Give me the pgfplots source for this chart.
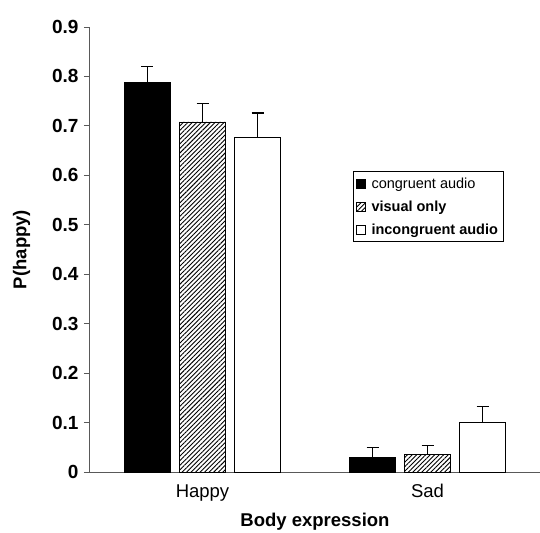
\documentclass[border=0pt]{standalone}
\usepackage{pgfplots}
\pgfplotsset{compat=1.18}
\usepackage{fontspec}
\setmainfont{Liberation Sans}
\usetikzlibrary{patterns.meta}
\begin{document}
\begin{tikzpicture}[x=1pt,y=1pt]
\useasboundingbox (-90,-60) rectangle (450,472);
\begin{axis}[
  at={(0,0)}, anchor=south west,
  scale only axis, width=450pt, height=445pt,
  xmin=-0.5, xmax=1.5, ymin=0, ymax=0.9,
  axis x line*=bottom, axis y line*=left,
  axis line style={gray!70!black, line width=1pt},
  ytick={0,0.1,...,0.9},
  yticklabel style={/pgf/number format/fixed, /pgf/number format/precision=1, xshift=-2pt},
  /pgf/number format/assume math mode=true,
  ticklabel style={font=\fontsize{19}{21}\selectfont\bfseries},
  xtick={0,1}, xticklabels={Happy,Sad},
  xticklabel style={font=\fontsize{18.5}{20}\selectfont, yshift=-3pt},
  x tick style={draw=none},
  extra x ticks={0.5}, extra x tick labels={},
  extra x tick style={tick style={draw=gray!70!black, line width=1pt}, major tick length=5pt},
  tick align=outside, major tick length=6pt,
  y tick style={gray!70!black, line width=1pt},
  ylabel={P(happy)}, ylabel style={font=\fontsize{18.5}{20}\selectfont\bfseries, at={(axis description cs:-0.152,0.5)}, anchor=center},
  xlabel={Body expression}, xlabel style={font=\fontsize{18.5}{20}\selectfont\bfseries, at={(axis description cs:0.5,-0.112)}, anchor=center},
  ybar, bar width=46pt,
  legend style={at={(0.584,0.676)}, anchor=north west, draw=black, line width=0.8pt,
    font=\fontsize{14.5}{16}\selectfont, row sep=7pt, inner xsep=3pt, inner ysep=4pt,
    cells={anchor=west}},
  legend image code/.code={\path[draw=none, fill=none, pattern=none] (0pt,0pt) -- (13pt,0pt); \draw[#1, line width=0.6pt] (0pt,-4.5pt) rectangle (9pt,4.5pt);},
  error bars/y dir=plus, error bars/y explicit,
  error bars/error bar style={black, line width=1.2pt},
  error bars/error mark options={black, line width=1.2pt, mark size=6pt, rotate=90},
]
\addplot[fill=black, draw=black, line width=0.8pt, bar shift=-55pt]
  coordinates {(0,0.787) +- (0,0.033) (1,0.029) +- (0,0.020)};
\addlegendentry{congruent audio}
\addplot[pattern={Lines[angle=45,distance=3.2pt,line width=0.9pt]}, draw=black, line width=0.8pt, bar shift=0pt]
  coordinates {(0,0.708) +- (0,0.037) (1,0.036) +- (0,0.017)};
\addlegendentry{\bfseries visual only}
\addplot[fill=white, draw=black, line width=0.8pt, bar shift=55pt]
  coordinates {(0,0.676) +- (0,0.050) (1,0.100) +- (0,0.032)};
\addlegendentry{\bfseries incongruent audio}
\end{axis}
\end{tikzpicture}
\end{document}
